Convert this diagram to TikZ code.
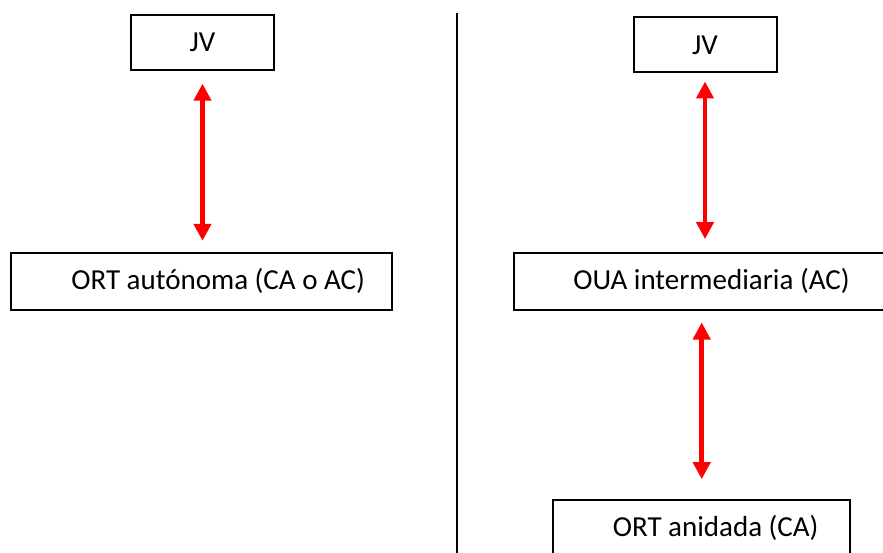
\documentclass[tikz,border=0pt]{standalone}
\usepackage{fontspec}
\setmainfont{Carlito}
\usetikzlibrary{arrows.meta}
\tikzset{
  box/.style={draw, line width=2pt, minimum height=57pt, inner sep=0pt, font=\fontsize{29}{35}\selectfont},
  link/.style={red, line width=4.7pt, {Triangle[width=17pt,length=17pt]}-{Triangle[width=17pt,length=17pt]}},
}
\begin{document}
\begin{tikzpicture}[x=1pt,y=-1pt]
\useasboundingbox (0,0) rectangle (883,553);
\clip (0,0) rectangle (883,553);
% left side
\node[box, minimum width=143pt, minimum height=55pt] (jvL) at (202.5,42.5) {JV};
\node[box, minimum width=381pt] (ortA) at (201.2,281.3) {\hspace*{34pt}ORT autónoma (CA o AC)};
\draw[link, shorten <=12.7pt, shorten >=11pt] (jvL.south) -- (jvL.south |- ortA.north);
% divider
\draw[line width=2pt] (457.3,12.7) -- (457.3,560);
% right side
\node[box, minimum width=143pt, minimum height=55pt] (jvR) at (705,45) {JV};
\node[box, minimum width=381pt] (oua) at (704,281.3) {\hspace*{15pt}OUA intermediaria (AC)};
\node[box, minimum width=297pt] (ortB) at (701.7,528) {\hspace*{28pt}ORT anidada (CA)};
\draw[link, shorten <=8pt, shorten >=12.7pt] (jvR.south) -- (jvR.south |- oua.north);
\draw[link, shorten <=11.7pt, shorten >=19.3pt] (oua.south -| ortB.north) -- (ortB.north);
\end{tikzpicture}
\end{document}
